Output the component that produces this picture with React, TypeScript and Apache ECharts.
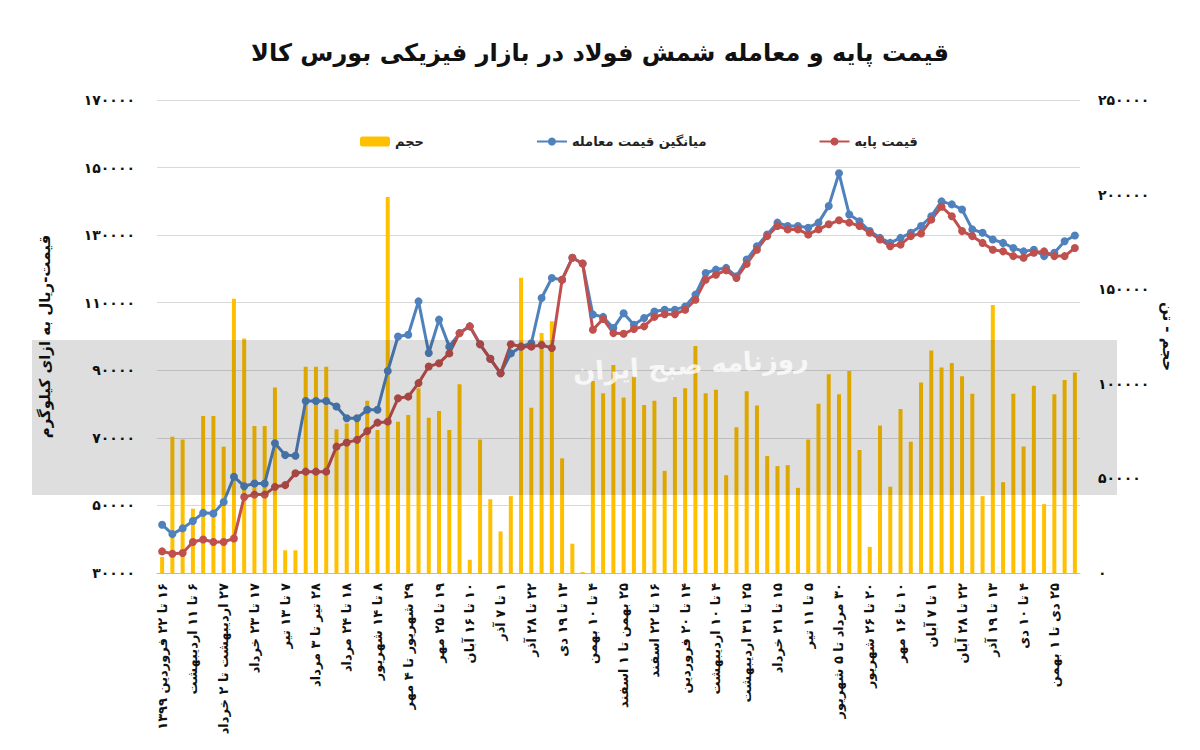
import React, { useEffect, useRef } from 'react';
import * as echarts from 'echarts';

// برچسب‌های محور افقی (هر سه هفته یک برچسب)
const weekLabels = [
  '۱۶ تا ۲۲ فروردین ۱۳۹۹', '۶ تا ۱۱ اردیبهشت', '۲۷ اردیبهشت تا ۲ خرداد', '۱۷ تا ۲۳ خرداد',
  '۷ تا ۱۳ تیر', '۲۸ تیر تا ۳ مرداد', '۱۸ تا ۲۴ مرداد', '۸ تا ۱۴ شهریور',
  '۲۹ شهریور تا ۴ مهر', '۱۹ تا ۲۵ مهر', '۱۰ تا ۱۶ آبان', '۱ تا ۷ آذر',
  '۲۲ تا ۲۸ آذر', '۱۳ تا ۱۹ دی', '۴ تا ۱۰ بهمن', '۲۵ بهمن تا ۱ اسفند',
  '۱۶ تا ۲۲ اسفند', '۱۴ تا ۲۰ فروردین', '۴ تا ۱۰ اردیبهشت', '۲۵ تا ۳۱ اردیبهشت',
  '۱۵ تا ۲۱ خرداد', '۵ تا ۱۱ تیر', '۳۰ مرداد تا ۵ شهریور', '۲۰ تا ۲۶ شهریور',
  '۱۰ تا ۱۶ مهر', '۱ تا ۷ آبان', '۲۲ تا ۲۸ آبان', '۱۳ تا ۱۹ آذر',
  '۴ تا ۱۰ دی', '۲۵ دی تا ۱ بهمن',
];

// حجم (تن)
const volume = [
  8500, 72000, 70600, 34000, 83000, 83000, 66800, 145000, 124000, 77700,
  77700, 98000, 12000, 12000, 109000, 109000, 109000, 76000, 79000, 81000,
  91000, 75600, 198700, 80000, 83500, 97700, 82000, 85600, 75600, 99800,
  7000, 70600, 39000, 22000, 40600, 156000, 87400, 126800, 133000, 60600,
  15500, 500, 101500, 95000, 110000, 92700, 104000, 88800, 91000, 54000,
  93000, 97700, 120000, 95000, 96800, 51700, 77000, 96000, 88500, 61800,
  56500, 57000, 45000, 70600, 89400, 105000, 94500, 106800, 65000, 13800,
  78000, 45600, 86700, 69400, 100700, 117600, 108600, 111000, 104000, 94700,
  40600, 141600, 48000, 94700, 66800, 99000, 36400, 94500, 102000, 106000,
];

// قیمت پایه (ریال به ازای کیلوگرم)
const basePrice = [
  36400, 35700, 35900, 39200, 39900, 39200, 39200, 40200, 52500, 53200,
  53200, 55500, 56000, 59500, 60000, 60000, 60000, 67400, 68600, 69400,
  72000, 74500, 74800, 81700, 82200, 86200, 91100, 92100, 95000, 101000,
  103000, 97700, 93400, 89100, 97700, 97000, 97000, 97500, 96600, 116800,
  123300, 121600, 102000, 105200, 101000, 100800, 102200, 103000, 105800, 106600,
  106600, 107900, 110900, 116800, 118300, 119600, 117300, 121500, 125700, 129700,
  132700, 131700, 131700, 130200, 131700, 133200, 134400, 133700, 132700, 130700,
  128700, 126700, 127200, 129700, 130500, 134600, 138400, 135600, 131200, 129700,
  127700, 125700, 125200, 123800, 123300, 124800, 125200, 123800, 123800, 126200,
];

// میانگین قیمت معامله
const avgPrice = [
  44300, 41500, 43200, 45400, 47800, 47600, 51000, 58500, 55700, 56500,
  56500, 68400, 64900, 64700, 80900, 80900, 80900, 79300, 75800, 75800,
  78300, 78300, 89800, 100000, 100500, 110400, 95100, 105000, 97000, 101000,
  103000, 97700, 93400, 89100, 95000, 97000, 98000, 111400, 117300, 116800,
  123300, 121600, 106500, 105800, 102500, 106900, 103500, 105500, 107400, 107900,
  107900, 108900, 112400, 118800, 119800, 120300, 117800, 122800, 126700, 130200,
  133700, 132700, 132700, 132200, 133700, 138600, 148300, 136100, 134100, 131200,
  129200, 127700, 129200, 130700, 132700, 135600, 140000, 139100, 137600, 131700,
  130700, 128700, 127700, 126200, 125200, 125700, 123800, 124800, 128200, 129900,
];

const categories = weekLabels.flatMap((l) => [l, '', '']);

const fa = (v: number) => String(v).replace(/\d/g, (d) => '۰۱۲۳۴۵۶۷۸۹'[+d]);
const rtl = (s: string) => (s ? '\u202B' + s + '\u202C' : s);
const font = 'DejaVu Sans';

const App: React.FC = () => {
  const ref = useRef<HTMLDivElement>(null);

  useEffect(() => {
    document.body.style.margin = '0';
    if (!ref.current) return;
    const chart = echarts.init(ref.current, null, { renderer: 'svg' });
    chart.setOption({
      animation: false,
      backgroundColor: '#fff',
      textStyle: { fontFamily: font },
      title: {
        text: 'قیمت پایه و معامله شمش فولاد در بازار فیزیکی بورس کالا',
        left: 'center',
        top: 36,
        textStyle: { fontSize: 24, fontWeight: 'bold', color: '#111', fontFamily: font },
      },
      legend: {
        top: 130,
        left: 355,
        itemGap: 112,
        itemWidth: 30,
        itemHeight: 10,
        textStyle: { fontSize: 13, fontWeight: 'bold', color: '#222' },
        data: ['حجم', 'میانگین قیمت معامله', 'قیمت پایه'],
      },
      grid: { left: 157, right: 120, top: 100, bottom: 177 },
      xAxis: {
        type: 'category',
        data: categories,
        axisTick: { show: false },
        axisLine: { lineStyle: { color: '#bbb' } },
        axisLabel: {
          interval: 2,
          rotate: 90,
          fontSize: 13,
          fontWeight: 'bold',
          color: '#111',
          margin: 10,
          formatter: rtl,
        },
      },
      yAxis: [
        {
          type: 'value',
          min: 30000,
          max: 170000,
          interval: 20000,
          name: rtl('قیمت-ریال به ازای کیلوگرم'),
          nameLocation: 'middle',
          nameRotate: 90,
          nameGap: 105,
          nameTextStyle: { fontSize: 15, fontWeight: 'bold', color: '#111' },
          axisLabel: { formatter: fa, fontSize: 14, fontWeight: 'bold', color: '#111', margin: 22 },
          splitLine: { lineStyle: { color: '#d9d9d9' } },
        },
        {
          type: 'value',
          min: 0,
          max: 250000,
          interval: 50000,
          name: rtl('حجم - تن'),
          nameLocation: 'middle',
          nameRotate: -90,
          nameGap: 72,
          nameTextStyle: { fontSize: 15, fontWeight: 'bold', color: '#111' },
          axisLabel: { formatter: fa, fontSize: 14, fontWeight: 'bold', color: '#111', margin: 18 },
          splitLine: { show: false },
        },
      ],
      series: [
        {
          name: 'حجم',
          type: 'bar',
          yAxisIndex: 1,
          data: volume,
          barWidth: 4,
          itemStyle: { color: '#FFC000' },
        },
        {
          name: 'میانگین قیمت معامله',
          type: 'line',
          data: avgPrice,
          symbol: 'circle',
          symbolSize: 8,
          showAllSymbol: true,
          lineStyle: { width: 3, color: '#4F81BD' },
          itemStyle: { color: '#4F81BD' },
        },
        {
          name: 'قیمت پایه',
          type: 'line',
          data: basePrice,
          symbol: 'circle',
          symbolSize: 8,
          showAllSymbol: true,
          lineStyle: { width: 3, color: '#C0504D' },
          itemStyle: { color: '#C0504D' },
        },
      ],
      graphic: [
        {
          type: 'rect',
          z: 100,
          silent: true,
          shape: { x: 32, y: 340, width: 1085, height: 155 },
          style: { fill: 'rgba(0,0,0,0.13)' },
        },
        {
          type: 'text',
          z: 101,
          silent: true,
          x: 690,
          y: 352,
          rotation: 0.06,
          style: {
            text: 'روزنامه صبح ایران',
            fontSize: 26,
            fontWeight: 'bold',
            fontFamily: font,
            fill: 'rgba(255,255,255,0.8)',
            align: 'center',
          },
        },
      ],
    });
    return () => chart.dispose();
  }, []);

  return <div ref={ref} style={{ width: 1200, height: 750 }} />;
};

export default App;
